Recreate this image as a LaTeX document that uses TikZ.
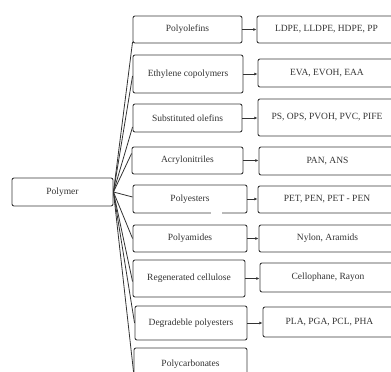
\documentclass[tikz,border=0pt]{standalone}
\usepackage{fontspec}
\setmainfont{Liberation Serif}
\usetikzlibrary{arrows.meta}

\tikzset{
    box/.style={draw=black!78, rounded corners=2pt, line width=0.9pt, inner sep=0pt,
        text=black!80, font=\fontsize{9.5}{11}\selectfont},
    link/.style={draw=black!80, line width=0.8pt},
    tip/.style={link, -{Latex[length=3.2pt,width=3pt]}}
}

\begin{document}
\begin{tikzpicture}[x=1pt, y=-1pt]
    \useasboundingbox (0,0) rectangle (391,372);
    \node[box, minimum width=101pt, minimum height=28pt] (polymer) at (62.5,192) {Polymer};
    % classes
    \foreach \name/\cx/\cy/\w/\h/\txt in {
        olefin/187.5/29.5/109/27/Polyolefins,
        ethyl/188/74/110/38/Ethylene copolymers,
        subst/187.5/118/109/28/Substituted olefins,
        acryl/187.5/160.5/111/27/Acrylonitriles,
        ester/190/199/114/28/Polyesters,
        amide/190/238.5/114/27/Polyamides,
        cell/189/278.5/112/37/Regenerated cellulose,
        degr/191/323/112/34/Degradeble polyesters,
        carb/190.5/364/113/32/Polycarbonates}{
        \node[box, minimum width=\w pt, minimum height=\h pt] (\name) at (\cx,\cy) {\txt};
    }
    % examples
    \foreach \name/\cx/\cy/\w/\h/\txt in {
        olefinx/326.5/29.5/139/27/{LDPE,  LLDPE,  HDPE,  PP},
        ethylx/327/73/138/28/{EVA, EVOH, EAA},
        substx/327/117.5/138/37/{PS,  OPS,  PVOH, PVC,  PIFE},
        acrylx/327.5/161/137/28/{PAN, ANS},
        esterx/327/199.5/138/27/{PET,  PEN, PET - PEN},
        amidex/327.5/238.5/137/27/{Nylon, Aramids},
        cellx/328/277.5/136/29/{Cellophane, Rayon},
        degrx/329.5/322/133/30/{PLA, PGA,  PCL,  PHA}}{
        \node[box, minimum width=\w pt, minimum height=\h pt] (\name) at (\cx,\cy) {\txt};
    }
    \fill[white] (211,210) rectangle (222,216);
    \coordinate (hub) at (polymer.east);
    \draw[link] (hub) -- ([yshift=-12.5pt]olefin.west);
    \draw[link] (hub) -- ([yshift=-2pt]ethyl.west);
    \draw[link] (hub) -- ([yshift=-9pt]subst.west);
    \draw[link] (hub) -- ([yshift=7pt]acryl.west);
    \draw[link] (hub) -- ([yshift=2pt]ester.west);
    \draw[link] (hub) -- (amide.west);
    \draw[link] (hub) -- ([yshift=-3pt]cell.west);
    \draw[link] (hub) -- (degr.west);
    \draw[link] (hub) -- ([yshift=-8pt]carb.west);
    \foreach \a/\b in {olefin/olefinx, ethyl/ethylx, subst/substx, acryl/acrylx,
        ester/esterx, amide/amidex, cell/cellx, degr/degrx}{
        \draw[tip] (\a.east) -- (\a.east -| \b.west);
    }
\end{tikzpicture}
\end{document}
